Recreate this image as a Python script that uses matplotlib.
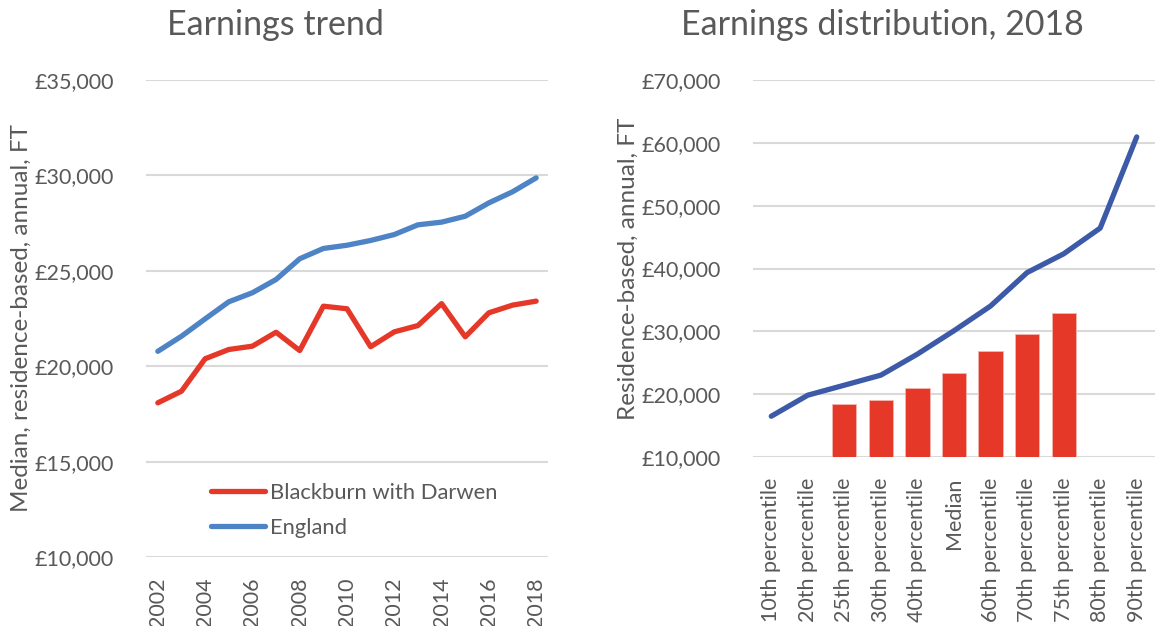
import matplotlib
matplotlib.use('Agg')
import matplotlib.pyplot as plt
from matplotlib.ticker import FuncFormatter
import numpy as np

plt.rcParams['font.family'] = ['Lato', 'DejaVu Sans']

# left chart - median annual earnings, FT
years = list(range(2002, 2019))
blackburn = [18080, 18690, 20390, 20875, 21050, 21780, 20820, 23145, 23010,
             21020, 21800, 22130, 23280, 21540, 22800, 23200, 23410]
england = [20780, 21570, 22480, 23375, 23850, 24545, 25630, 26170, 26340,
           26590, 26900, 27410, 27550, 27860, 28560, 29140, 29870]

# right chart - distribution 2018
pct_labels = ['10th percentile', '20th percentile', '25th percentile', '30th percentile',
              '40th percentile', 'Median', '60th percentile', '70th percentile',
              '75th percentile', '80th percentile', '90th percentile']
dist_line = [16490, 19840, 21430, 23030, 26380, 30100, 34030, 39350, 42330, 46430, 60940]
dist_bars = [np.nan, np.nan, 18360, 19150, 21000, 23300, 26860, 29520, 32970, np.nan, np.nan]

txt = '#595959'
grid = '#D9D9D9'
red = '#E53828'
blue = '#4E83C5'
navy = '#3C5AA8'
fs = 15.5      # tick labels
fs_lab = 17.5  # axis titles
fs_title = 24.5

W, H = 1155, 626
fig = plt.figure(figsize=(W / 100, H / 100), dpi=100)

money = FuncFormatter(lambda v, p: '£{:,.0f}'.format(v))


def style(ax, ymin, ymax, step):
    ax.set_ylim(ymin, ymax)
    ax.set_yticks(np.arange(ymin, ymax + 1, step))
    ax.yaxis.set_major_formatter(money)
    for s in ax.spines.values():
        s.set_visible(False)
    ax.grid(axis='y', color=grid, linewidth=1.5)
    ax.set_axisbelow(True)
    ax.tick_params(axis='both', length=0, labelsize=fs, labelcolor=txt)
    ax.tick_params(axis='y', pad=23)
    ax.tick_params(axis='x', pad=15)


def ylab(ax, text, xpix, x0):
    ax.set_ylabel(text, fontsize=fs_lab, color=txt)
    ax.yaxis.label.set_va('center')
    ax.yaxis.set_label_coords((xpix - x0) / 402, 0.5)


# ---- left
ax1 = fig.add_axes([146 / W, 1 - 557 / H, (548 - 146) / W, (557 - 80) / H])
x1 = np.arange(len(years))
ax1.plot(x1, blackburn, color=red, lw=3.8, solid_capstyle='round', solid_joinstyle='round',
         label='Blackburn with Darwen')
ax1.plot(x1, england, color=blue, lw=3.8, solid_capstyle='round', solid_joinstyle='round',
         label='England')
ax1.set_xlim(-0.5, len(years) - 0.5)
style(ax1, 10000, 35000, 5000)
ax1.set_xticks(x1[::2])
ax1.set_xticklabels([str(y) for y in years[::2]], rotation=90, va='top', ha='center')
ylab(ax1, 'Median, residence-based, annual, FT', 21, 146)
leg = ax1.legend(loc='center left', bbox_to_anchor=(0.162, 0.0975), frameon=False,
                 fontsize=15.8, handlelength=2.47, handletextpad=0.2, labelspacing=0.68,
                 borderpad=0, borderaxespad=0)
for t in leg.get_texts():
    t.set_color(txt)
fig.text(275 / W, 1 - 25 / H, 'Earnings trend', ha='center', va='center',
         fontsize=fs_title, color=txt)

# ---- right
ax2 = fig.add_axes([753 / W, 1 - 457 / H, (1155 - 753) / W, (457 - 80) / H])
x2 = np.arange(len(pct_labels))
bar_base = 10000
ax2.bar(x2, np.array(dist_bars) - bar_base, bottom=bar_base, width=0.66, color=red,
        edgecolor='#F4B6AE', linewidth=0.6)
ax2.plot(x2, dist_line, color=navy, lw=3.8, solid_capstyle='round', solid_joinstyle='round')
ax2.set_xlim(-0.5, len(pct_labels) - 0.5)
style(ax2, 10000, 70000, 10000)
ax2.set_xticks(x2)
ax2.set_xticklabels(pct_labels, rotation=90, va='top', ha='center')
ylab(ax2, 'Residence-based, annual, FT', 628, 753)
fig.text(882 / W, 1 - 25 / H, 'Earnings distribution, 2018', ha='center', va='center',
         fontsize=fs_title, color=txt)

fig.savefig('out.png', dpi=100, facecolor='white')
